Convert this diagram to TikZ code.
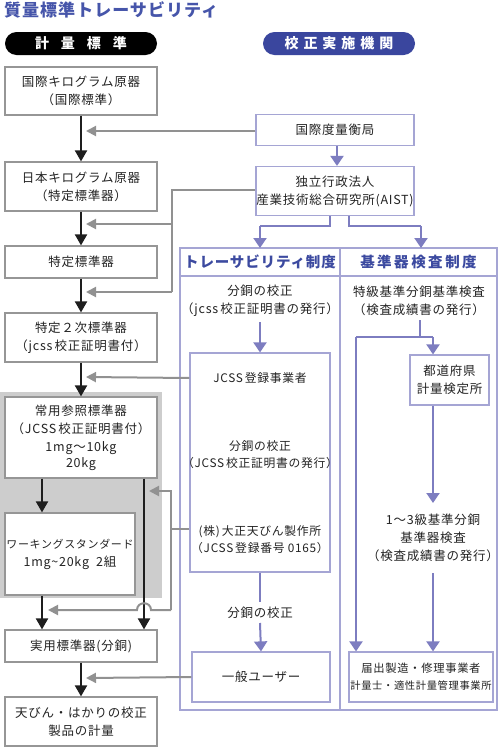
\documentclass[tikz,border=0pt]{standalone}
\usepackage{fontspec}
\setmainfont{Noto Sans CJK JP}[LetterSpace=6]
\usetikzlibrary{arrows.meta,calc}
\definecolor{ttlblue}{RGB}{70,85,170}
\definecolor{pillblue}{RGB}{58,70,158}
\definecolor{hdrblue}{RGB}{60,74,160}
\definecolor{lav}{RGB}{165,165,212}
\definecolor{lavarrow}{RGB}{125,125,192}
\definecolor{garrowc}{RGB}{145,145,145}
\definecolor{boxgray}{RGB}{150,150,150}
\definecolor{grpgray}{RGB}{205,205,205}
\definecolor{txt}{RGB}{35,35,35}
\definecolor{blk}{RGB}{30,30,30}
\tikzset{
  lbox/.style={draw=boxgray, line width=1.2pt, fill=white, align=center, inner sep=0pt, text=txt,
    font=\fontsize{12.5}{18}\selectfont, minimum width=152pt},
  rbox/.style={draw=lav, line width=1.2pt, fill=white, align=center, inner sep=0pt, text=txt,
    font=\fontsize{12.5}{18}\selectfont},
  pill/.style={minimum width=152pt, minimum height=23pt, rounded corners=11.5pt, inner sep=0pt,
    text=white, font=\bfseries\fontsize{14}{16}\selectfont},
  ttxt/.style={align=center, inner sep=0pt, text=txt, font=\fontsize{12.5}{18}\selectfont},
  stxt/.style={align=center, inner sep=0pt, text=txt, font=\fontsize{11.8}{17}\selectfont},
  hdr/.style={inner sep=0pt, text=hdrblue, font=\bfseries\fontsize{14.5}{16}\selectfont},
  barrow/.style={draw=blk, line width=2pt, -{Triangle[width=12pt,length=11pt]}},
  garrow/.style={draw=garrowc, line width=2pt, -{Triangle[width=10pt,length=10pt]}},
  gline/.style={draw=garrowc, line width=2pt},
  larrow/.style={draw=lavarrow, line width=2pt, -{Triangle[width=13pt,length=10pt]}},
  lline/.style={draw=lavarrow, line width=2pt},
  frame/.style={draw=lav, line width=1.2pt},
}
\begin{document}
\begin{tikzpicture}[x=1pt,y=-1pt]
\useasboundingbox (0,0) rectangle (500,747);
\fill[white] (0,0) rectangle (500,747);

% title
\node[anchor=west, inner sep=0pt, text=ttlblue, font=\bfseries\fontsize{17}{18}\selectfont] (title) at (4,10) {質量標準トレーサビリティ};

% header pills
\node[pill, fill=black] (hl) at (81,43.5) {計\hspace{12pt}量\hspace{12pt}標\hspace{12pt}準};
\node[pill, fill=pillblue] (hr) at (339,43.5) {校\hspace{5pt}正\hspace{5pt}実\hspace{5pt}施\hspace{5pt}機\hspace{5pt}関};

% shaded group
\fill[grpgray] (0,392) rectangle (162,598);

% left column boxes
\node[lbox, minimum height=48pt] (b1) at (81,91) {国際キログラム原器\\（国際標準）};
\node[lbox, minimum height=49pt] (b2) at (81,186.5) {日本キログラム原器\\（特定標準器）};
\node[lbox, minimum height=32pt] (b3) at (81,262) {特定標準器};
\node[lbox, minimum height=49pt] (b4) at (81,337.5) {特定２次標準器\\（jcss\,校正証明書付）};
\node[lbox, minimum height=81pt] (b5) at (81,437.5) {常用参照標準器\\（JCSS\,校正証明書付）\\1mg〜10kg\\[-2pt]20kg};
\node[lbox, minimum width=130pt, minimum height=82pt, font=\fontsize{11}{18}\selectfont] (b6) at (70,554) {ワーキングスタンダード\\{\fontsize{12.5}{18}\selectfont 1mg\textasciitilde20kg\ \ 2組}};
\node[lbox, minimum height=32pt] (b7) at (81,646) {実用標準器(分銅)};
\node[lbox, minimum height=49pt] (b8) at (81,721.5) {天びん・はかりの校正\\製品の計量};

% right top boxes
\node[rbox, minimum width=158pt, minimum height=31pt] (r1) at (335,130) {国際度量衡局};
\node[rbox, minimum width=158pt, minimum height=49pt] (r2) at (335,191) {独立行政法人\\産業技術総合研究所(AIST)};

% frame
\draw[frame] (180,248) rectangle (497,710);
\draw[frame] (340,248) -- (340,710);
\draw[frame] (180,276) -- (497,276);
\node[hdr] (h1) at (260,262) {トレーサビリティ制度};
\node[hdr] (h2) at (418.5,262) {基\hspace{2.5pt}準\hspace{2.5pt}器\hspace{2.5pt}検\hspace{2.5pt}査\hspace{2.5pt}制\hspace{2.5pt}度};

% traceability column
\node[ttxt] (t1) at (260,301) {分銅の校正\\（jcss\,校正証明書の発行）};
\node[rbox, minimum width=140pt, minimum height=219pt] (jc) at (260,462.5) {};
\node[stxt] (j1) at (260,378) {JCSS\,登録事業者};
\node[stxt] (j2) at (260,454.5) {分銅の校正\\（JCSS\,校正証明書の発行）};
\node[stxt] (j3) at (260,539.5) {(株)\,大正天びん製作所\\（JCSS\,登録番号 0165）};
\node[ttxt] (t2) at (260,613) {分銅の校正};
\node[rbox, minimum width=138pt, minimum height=50pt] (u) at (261,677) {一般ユーザー};

% inspection column
\node[ttxt] (s1) at (419,301) {特級基準分銅基準検査\\（検査成績書の発行）};
\node[rbox, minimum width=79pt, minimum height=50pt] (pref) at (449.5,380) {都道府県\\計量検定所};
\node[ttxt] (s2) at (433,538) {1〜3級基準分銅\\基準器検査\\（検査成績書の発行）};
\node[rbox, minimum width=144pt, minimum height=50pt, font=\fontsize{11.3}{17}\selectfont] (fd) at (421,677) {届出製造・修理事業者\\{\fontsize{10.3}{14}\selectfont 計量士・適性計量管理事業所}};

% coordinates
\coordinate (c131) at (86,131);
\coordinate (c224) at (86,224);
\coordinate (c292) at (86,292);
\coordinate (c377) at (86,377);
\coordinate (c678) at (86,678);
\coordinate (c491) at (149,491);
\coordinate (c610) at (48,610);

% black arrows
\draw[barrow] (b1) -- (b2);
\draw[barrow] (b2) -- (b3);
\draw[barrow] (b3) -- (b4);
\draw[barrow] (b4) -- (b5);
\draw[barrow] (b7) -- (b8);
\draw[barrow] (b5.south -| 42,0) -- (b6.north -| 42,0);
\draw[barrow] (b6.south -| 42,0) -- (b7.north -| 42,0);
\draw[barrow] (b5.south -| 144,0) -- (b7.north -| 144,0);

% gray arrows
\draw[garrow] (r1.west |- c131) -- (c131);
\draw[gline] (r2.west |- 0,190) -- (172,190) -- (172,292);
\draw[garrow] (172,224) -- (c224);
\draw[garrow] (172,292) -- (c292);
\draw[garrow] (jc.west |- j1) -- (c377);
\draw[gline] (jc.west |- 0,529) -- (171,529);
\draw[garrow] (171,610) -- (171,491) -- (c491);
\draw[garrow] (171,610) -- (151,610) .. controls (151,601) and (137,601) .. (137,610) -- (c610);
\draw[garrow] (u.west) -- (c678);

% lavender arrows
\draw[larrow] (r1.south -| 337,0) -- (r2.north -| 337,0);
\draw[lline] (r2.south -| 330,0) -- (330,226) -- (260,226);
\draw[larrow] (260,226) -- (260,248);
\draw[lline] (r2.south -| 349,0) -- (349,226) -- (421,226);
\draw[larrow] (421,226) -- (421,248);
\draw[larrow] (260,322) -- (jc.north);
\draw[lline] (jc.south) -- (260,602);
\draw[larrow] (260,623) -- (u.north);
\draw[lline] (420,320) -- (420,337);
\draw[lline] (356,337) -- (433,337);
\draw[larrow] (433,337) -- (pref.north -| 433,0);
\draw[larrow] (pref.south -| 433,0) -- (433,503);
\draw[larrow] (433,573) -- (fd.north -| 433,0);
\draw[larrow] (356,337) -- (fd.north -| 356,0);
\end{tikzpicture}
\end{document}
